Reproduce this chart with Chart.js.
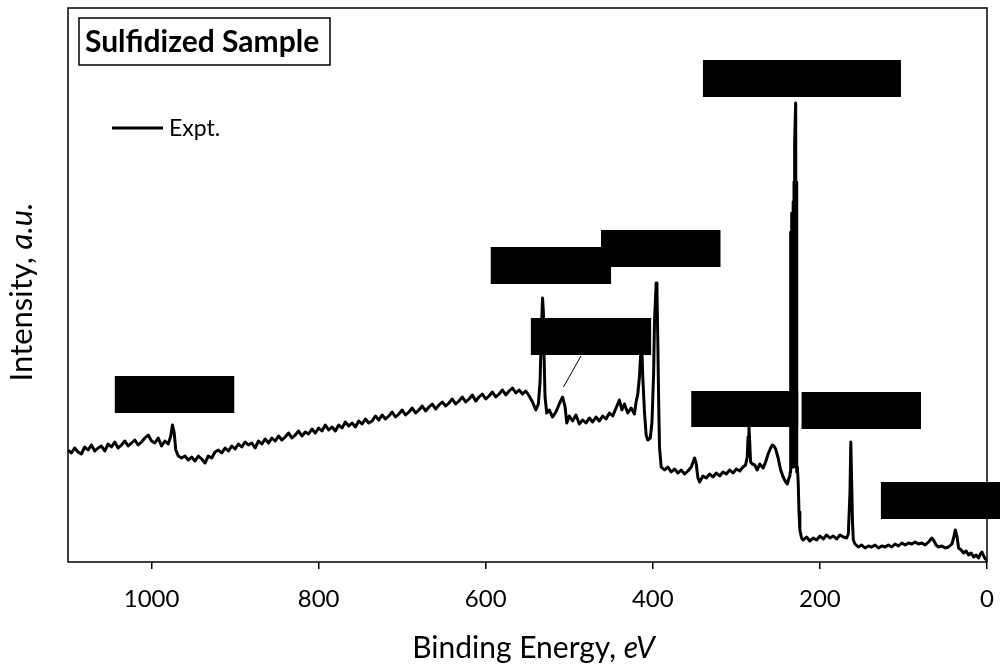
<!DOCTYPE html>
<html>
<head>
<meta charset="utf-8">
<script src="https://cdn.jsdelivr.net/npm/chart.js@4.4.1/dist/chart.umd.min.js"></script>
<style>
  html, body { margin: 0; padding: 0; background: #fff; }
  #wrap { width: 1000px; height: 669px; position: relative; }
</style>
</head>
<body>
<div id="wrap"><canvas id="xps"></canvas></div>
<script>
// binding energy (eV)
const energy = [
  1100, 1096, 1092, 1088, 1084, 1080, 1076, 1072, 1068, 1064,
  1060, 1056, 1052, 1048, 1044, 1040, 1036, 1032, 1028, 1024,
  1020, 1016, 1012, 1008, 1004, 1000, 996, 992, 988, 984,
  980, 977, 975, 973, 971, 968, 964, 960, 956, 952,
  948, 944, 940, 936, 932, 928, 924, 920, 916, 912,
  908, 904, 900, 896, 892, 888, 884, 880, 876, 872,
  868, 864, 860, 856, 852, 848, 844, 840, 836, 832,
  828, 824, 820, 816, 812, 808, 804, 800, 796, 792,
  788, 784, 780, 776, 772, 768, 764, 760, 756, 752,
  748, 744, 740, 736, 732, 728, 724, 720, 716, 712,
  708, 704, 700, 696, 692, 688, 684, 680, 676, 672,
  668, 664, 660, 656, 652, 648, 644, 640, 636, 632,
  628, 624, 620, 616, 612, 608, 604, 600, 596, 592,
  588, 584, 580, 576, 572, 568, 564, 560, 556, 552,
  548, 544, 540, 537, 535, 533, 532, 531, 530, 529,
  527, 524, 520, 516, 512, 508, 505, 503, 500, 496,
  492, 488, 484, 480, 476, 472, 468, 464, 460, 456,
  452, 448, 444, 440, 437, 434, 430, 426, 422, 420,
  418, 416, 414, 413, 412, 410, 408, 406, 403, 401,
  399, 398, 396, 395, 394, 393, 392, 390, 386, 382,
  378, 374, 370, 366, 362, 358, 354, 350, 348, 346,
  344, 340, 336, 332, 328, 324, 320, 316, 312, 308,
  304, 300, 296, 292, 289, 287, 286, 285, 284, 283,
  281, 278, 275, 272, 268, 265, 262, 259, 257, 255,
  253, 250, 247, 244, 241, 239, 237, 236, 235.5, 235,
  234.5, 234, 233.5, 233, 232.5, 232, 231.5, 231, 230.5, 230,
  229, 228.5, 228, 227.5, 227, 226, 225, 224,
  222, 220, 216, 212, 208, 204, 200, 196, 192, 188,
  184, 180, 176, 172, 168, 166, 164, 163, 162, 161,
  160, 158, 154, 150, 146, 142, 138, 134, 130, 126,
  122, 118, 114, 110, 106, 102, 98, 94, 90, 86,
  82, 78, 74, 70, 66, 64, 61, 58, 54, 50,
  46, 42, 40, 38, 36, 34, 31, 28, 25, 22,
  19, 16, 13, 10, 8, 6, 4, 2, 0
];

// intensity (a.u.)
const intensity = [
  112, 109, 114, 110, 108, 115, 112, 117, 111, 114,
  116, 111, 118, 115, 120, 114, 117, 121, 116, 119,
  122, 117, 120, 124, 127, 121, 119, 124, 116, 121,
  118, 126, 137, 130, 112, 106, 104, 106, 102, 105,
  101, 106, 103, 99, 106, 104, 110, 112, 109, 114,
  111, 116, 113, 118, 115, 120, 117, 119, 114, 121,
  118, 123, 119, 124, 121, 126, 122, 125, 129, 124,
  127, 131, 126, 130, 128, 133, 129, 134, 131, 137,
  132, 135, 131, 137, 134, 140, 136, 139, 135, 141,
  138, 143, 139, 141, 146, 142, 147, 143, 146, 150,
  145, 148, 152, 147, 150, 154, 149, 152, 156, 151,
  155, 158, 153, 157, 160, 156, 159, 163, 158, 161,
  165, 160, 163, 167, 161, 165, 168, 163, 166, 170,
  165, 168, 172, 167, 171, 174, 169, 172, 168, 171,
  166, 160, 152, 158, 180, 240, 264, 250, 200, 165,
  149, 152, 145, 150, 158, 165, 155, 139, 146, 141,
  147, 138, 142, 139, 144, 140, 145, 141, 146, 143,
  149, 146, 154, 162, 152, 158, 149, 154, 148, 160,
  168, 185, 217, 210, 185, 150, 127, 122, 124, 140,
  190, 240, 279, 270, 220, 160, 115, 95, 92, 95,
  90, 93, 89, 92, 88, 91, 95, 104, 98, 84,
  80, 86, 84, 88, 85, 89, 86, 90, 88, 92,
  89, 93, 91, 95, 97, 105, 125, 137, 120, 100,
  98, 97, 92, 98, 94, 100, 108, 114, 117, 116,
  113, 104, 92, 85, 80, 78, 84, 86, 90, 330,
  100, 349, 110, 330, 95, 360, 95, 380, 100, 420,
  459, 120, 380, 90, 95, 80, 50, 32,
  24, 22, 25, 21, 24, 22, 26, 23, 27, 24,
  26, 23, 27, 25, 24, 28, 70, 120, 80, 40,
  22, 18, 15, 17, 14, 16, 15, 17, 14, 16,
  15, 17, 15, 18, 16, 19, 17, 19, 18, 20,
  18, 19, 17, 20, 24, 22, 17, 15, 16, 14,
  15, 18, 24, 32, 26, 14, 12, 9, 11, 7,
  9, 5, 7, 4, 8, 10, 6, 3, 2
];

const xTicks = [1000, 800, 600, 400, 200, 0];

// blacked-out peak labels: [eV from, eV to, intensity low, intensity high]
const labelBoxes = [
  [1044, 901, 149, 186],
  [594, 450, 278, 315],
  [462, 319, 295, 332],
  [546, 402, 207, 244],
  [340, 103, 465, 502],
  [354, 226, 135, 171],
  [222, 79, 133, 170],
  [127, -16, 43, 80]
];
const leader = [[486, 206], [507, 175]];

const FONT = 'Lato, Carlito, "Open Sans", sans-serif';

function mixedText(ctx, parts, cx, cy) {
  let total = 0;
  parts.forEach(p => { ctx.font = p.font; total += ctx.measureText(p.text).width; });
  let x = cx - total / 2;
  ctx.textAlign = 'left';
  ctx.textBaseline = 'middle';
  parts.forEach(p => {
    ctx.font = p.font;
    ctx.fillText(p.text, x, cy);
    x += ctx.measureText(p.text).width;
  });
}

const overlay = {
  id: 'overlay',
  afterDraw(chart) {
    const { ctx, chartArea: a, scales: { x, y } } = chart;
    ctx.save();

    // frame round the plot
    ctx.strokeStyle = '#000';
    ctx.lineWidth = 1.5;
    ctx.strokeRect(a.left, a.top, a.right - a.left, a.bottom - a.top);

    // black label boxes
    ctx.fillStyle = '#000';
    labelBoxes.forEach(([e1, e2, v1, v2]) => {
      const x1 = x.getPixelForValue(e1), x2 = x.getPixelForValue(e2);
      const y1 = y.getPixelForValue(v1), y2 = y.getPixelForValue(v2);
      ctx.fillRect(Math.min(x1, x2), Math.min(y1, y2), Math.abs(x2 - x1), Math.abs(y2 - y1));
    });

    // leader line
    ctx.lineWidth = 1;
    ctx.beginPath();
    ctx.moveTo(x.getPixelForValue(leader[0][0]), y.getPixelForValue(leader[0][1]));
    ctx.lineTo(x.getPixelForValue(leader[1][0]), y.getPixelForValue(leader[1][1]));
    ctx.stroke();

    // sample title box
    ctx.fillStyle = '#fff';
    ctx.fillRect(a.left + 11, a.top + 10, 251, 47);
    ctx.lineWidth = 1.5;
    ctx.strokeRect(a.left + 11, a.top + 10, 251, 47);
    ctx.fillStyle = '#000';
    ctx.font = 'bold 30px ' + FONT;
    ctx.textAlign = 'left';
    ctx.textBaseline = 'middle';
    ctx.fillText('Sulfidized Sample', a.left + 17, a.top + 34);

    // legend
    ctx.lineWidth = 2.8;
    ctx.beginPath();
    ctx.moveTo(a.left + 44, a.top + 120);
    ctx.lineTo(a.left + 95, a.top + 120);
    ctx.stroke();
    ctx.font = '23px ' + FONT;
    ctx.fillText('Expt.', a.left + 101, a.top + 121);

    // axis titles
    const cx = (a.left + a.right) / 2;
    mixedText(ctx, [
      { text: 'Binding Energy, ', font: '30px ' + FONT },
      { text: 'eV', font: 'italic 30px ' + FONT }
    ], cx + 6, 648);

    ctx.save();
    ctx.translate(22, 292);
    ctx.rotate(-Math.PI / 2);
    mixedText(ctx, [
      { text: 'Intensity, ', font: '31px ' + FONT },
      { text: 'a.u.', font: 'italic 31px ' + FONT }
    ], 0, 0);
    ctx.restore();

    ctx.restore();
  }
};

new Chart(document.getElementById('xps'), {
  type: 'line',
  data: {
    datasets: [{
      label: 'Expt.',
      data: energy.map((e, i) => ({ x: e, y: intensity[i] })),
      borderColor: '#000',
      borderWidth: 3,
      pointRadius: 0,
      tension: 0,
      borderJoinStyle: 'round',
      fill: false
    }]
  },
  options: {
    responsive: true,
    maintainAspectRatio: false,
    animation: false,
    layout: { padding: { top: 8, right: 13, left: 0, bottom: 0 } },
    plugins: {
      legend: { display: false },
      tooltip: { enabled: false }
    },
    scales: {
      x: {
        type: 'linear',
        reverse: true,
        min: 0,
        max: 1100,
        afterFit: s => { s.height = 107; s.paddingLeft = 0; s.paddingRight = 0; },
        afterBuildTicks: s => { s.ticks = xTicks.map(v => ({ value: v })); },
        border: { display: false },
        grid: { display: true, drawOnChartArea: false, drawTicks: true, tickLength: 7, color: '#000', lineWidth: 1.5 },
        ticks: {
          color: '#000', font: { family: FONT, size: 24 }, padding: 16,
          maxRotation: 0, autoSkip: false, callback: v => String(v)
        }
      },
      y: {
        min: 0,
        max: 554,
        afterFit: s => { s.width = 68; },
        border: { display: false },
        grid: { display: false },
        ticks: { display: false }
      }
    }
  },
  plugins: [overlay]
});
</script>
</body>
</html>
